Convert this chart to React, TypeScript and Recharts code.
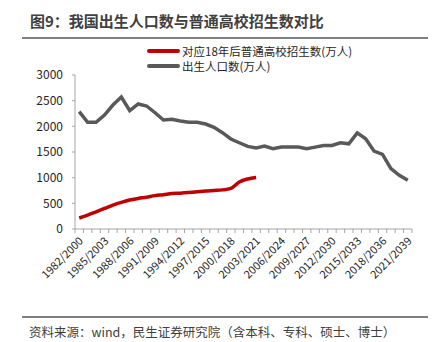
import React from 'react';
import { LineChart, Line, XAxis, YAxis } from 'recharts';

const categories = [
  '1982/2000', '1983/2001', '1984/2002', '1985/2003', '1986/2004', '1987/2005', '1988/2006', '1989/2007',
  '1990/2008', '1991/2009', '1992/2010', '1993/2011', '1994/2012', '1995/2013', '1996/2014', '1997/2015',
  '1998/2016', '1999/2017', '2000/2018', '2001/2019', '2002/2020', '2003/2021', '2004/2022', '2005/2023',
  '2006/2024', '2007/2025', '2008/2026', '2009/2027', '2010/2028', '2011/2029', '2012/2030', '2013/2031',
  '2014/2032', '2015/2033', '2016/2034', '2017/2035', '2018/2036', '2019/2037', '2020/2038', '2021/2039',
];

const enrollment = [
  215, 270, 335, 400, 465, 520, 565, 595, 620, 650, 668, 690, 698, 710, 725, 740, 750, 762, 790, 915, 975, 1005,
];

const births = [
  2285, 2078, 2078, 2220, 2415, 2570, 2305, 2435, 2396, 2265,
  2123, 2137, 2104, 2078, 2078, 2045, 1981, 1876, 1753, 1680,
  1610, 1580, 1614, 1563, 1595, 1595, 1595, 1563, 1595, 1628,
  1628, 1680, 1660, 1873, 1757, 1517, 1453, 1176, 1046, 950,
];

const yTicks = [0, 500, 1000, 1500, 2000, 2500, 3000];
const labelEvery = 3;

const seriesNames = ['对应18年后普通高校招生数(万人)', '出生人口数(万人)'];
const seriesColors = ['#C00000', '#595959'];

const title = '图9：我国出生人口数与普通高校招生数对比';
const source = '资料来源：wind，民生证券研究院（含本科、专科、硕士、博士）';

const data = categories.map((c, i) => ({
  x: i + 0.5,
  cat: c,
  enroll: i < enrollment.length ? enrollment[i] : null,
  birth: births[i],
}));

const boundaryTicks = Array.from({ length: categories.length + 1 }, (_, i) => i);

const FONT = '"Noto Sans CJK SC", "Noto Sans", sans-serif';

const W = 441;
const H = 342;
const margin = { top: 75, right: 29, bottom: 53, left: 0 };
const yWidth = 75;
const halfBand = (W - margin.left - margin.right - yWidth) / categories.length / 2;

const XTick = (props: any) => {
  const { x, y, payload } = props;
  const v = payload.value;
  if (v % labelEvery !== 0 || v >= categories.length) return <g />;
  const cx = x + halfBand + 2;
  const cy = y + 4;
  return (
    <text
      x={cx}
      y={cy}
      transform={`rotate(-45 ${cx} ${cy})`}
      textAnchor="end"
      dy="0.35em"
      fontSize={11}
      fill="#262626"
      fontFamily={FONT}
    >
      {categories[v]}
    </text>
  );
};

export default function App() {
  return (
    <div style={{ position: 'absolute', left: 0, top: 0, width: W, height: H, background: '#fff', fontFamily: FONT }}>
      <div
        style={{
          position: 'absolute', left: 30, top: 11, fontSize: 15, lineHeight: '19px', fontWeight: 700,
          color: '#404040', whiteSpace: 'nowrap',
        }}
      >
        {title}
      </div>
      <div style={{ position: 'absolute', left: 22, top: 37, width: 406, height: 2, background: '#7f7f7f' }} />

      {seriesNames.map((n, i) => (
        <div key={n} style={{ position: 'absolute', left: 147, top: 43 + i * 15, height: 16, display: 'flex', alignItems: 'center' }}>
          <div style={{ width: 33, height: 4, background: seriesColors[i], borderRadius: 2 }} />
          <span style={{ marginLeft: 2, fontSize: 11.5, color: '#262626', whiteSpace: 'nowrap' }}>{n}</span>
        </div>
      ))}

      <div style={{ position: 'absolute', left: 0, top: 0 }}>
        <LineChart width={W} height={H} data={data} margin={margin}>
          <XAxis
            dataKey="x"
            type="number"
            domain={[0, categories.length]}
            ticks={boundaryTicks}
            interval={0}
            tick={<XTick />}
            tickSize={4}
            height={60}
            stroke="#a6a6a6"
            axisLine={{ stroke: '#a6a6a6' }}
            tickLine={{ stroke: '#a6a6a6' }}
          />
          <YAxis
            width={yWidth}
            domain={[0, 3000]}
            ticks={yTicks}
            interval={0}
            tickSize={3}
            tickMargin={9}
            axisLine={{ stroke: '#a6a6a6' }}
            tickLine={{ stroke: '#a6a6a6' }}
            tick={{ fontSize: 12, fill: '#262626', fontFamily: FONT }}
          />
          <Line
            type="linear"
            dataKey="birth"
            stroke={seriesColors[1]}
            strokeWidth={3.5}
            dot={false}
            isAnimationActive={false}
          />
          <Line
            type="monotone"
            dataKey="enroll"
            stroke={seriesColors[0]}
            strokeWidth={3.5}
            dot={false}
            isAnimationActive={false}
          />
        </LineChart>
      </div>

      <div style={{ position: 'absolute', left: 22, top: 316, width: 406, height: 2, background: '#7f7f7f' }} />
      <div style={{ position: 'absolute', left: 29, top: 323, fontSize: 12.5, lineHeight: '18px', color: '#404040', whiteSpace: 'nowrap' }}>
        {source}
      </div>
    </div>
  );
}
